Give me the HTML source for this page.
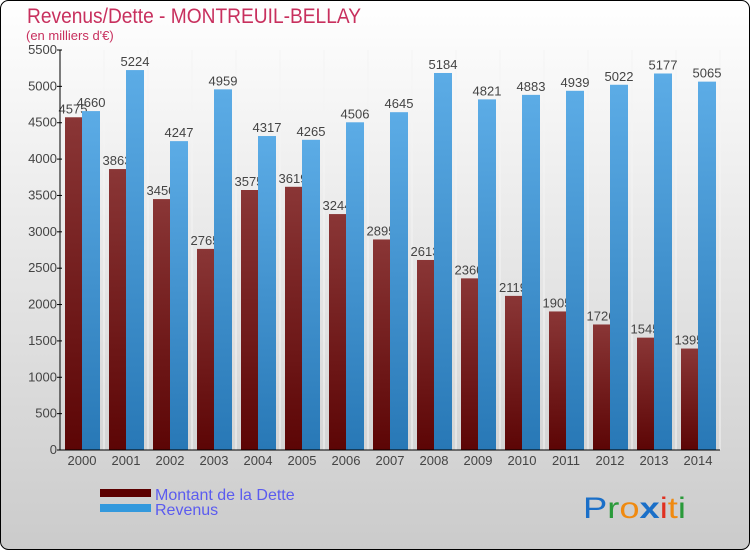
<!DOCTYPE html>
<html><head><meta charset="utf-8"><style>
body{margin:0;width:750px;height:550px;overflow:hidden;font-family:"Liberation Sans","DejaVu Sans",sans-serif}
</style></head><body>
<svg width="750" height="550" xmlns="http://www.w3.org/2000/svg" font-family="'Liberation Sans','DejaVu Sans',sans-serif">
<defs>
<linearGradient id="bg" x1="0" y1="0" x2="0" y2="1"><stop offset="0" stop-color="#ffffff"/><stop offset="1" stop-color="#cbcbcb"/></linearGradient>
<linearGradient id="gr" x1="0" y1="0" x2="0" y2="1"><stop offset="0" stop-color="#8a3636"/><stop offset="1" stop-color="#5c0505"/></linearGradient>
<linearGradient id="gb" x1="0" y1="0" x2="0" y2="1"><stop offset="0" stop-color="#5cace6"/><stop offset="1" stop-color="#2878b6"/></linearGradient>
</defs>
<rect x="0.5" y="0.5" width="749" height="549" rx="8" fill="url(#bg)" stroke="#000"/>
<text x="27" y="23" font-size="21" fill="#c8305e" textLength="334" lengthAdjust="spacingAndGlyphs">Revenus/Dette - MONTREUIL-BELLAY</text>
<text x="26" y="40" font-size="13" fill="#c8305e">(en milliers d'€)</text>
<g id="grid"></g><g id="bars"></g><g id="axes"></g>
<rect x="100" y="489" width="51" height="8" fill="#5c0000"/>
<rect x="100" y="504" width="51" height="8" fill="#3399dd"/>
<text x="155" y="500" font-size="16" fill="#5b5bef">Montant de la Dette</text>
<text x="155" y="515" font-size="16" fill="#5b5bef">Revenus</text>
<text x="583" y="518" font-size="30" textLength="103" lengthAdjust="spacingAndGlyphs"><tspan fill="#1a6fc8">P</tspan><tspan fill="#2a9a3a">r</tspan><tspan fill="#f08a10">o</tspan><tspan fill="#1a6fc8" font-weight="bold">x</tspan><tspan fill="#e03020">i</tspan><tspan fill="#f08a10">t</tspan><tspan fill="#2a9a3a">i</tspan></text>
</svg>
<script>
const years=["2000","2001","2002","2003","2004","2005","2006","2007","2008","2009","2010","2011","2012","2013","2014"];
const dette=[4575,3863,3450,2765,3575,3619,3244,2895,2613,2360,2119,1905,1726,1545,1395];
const revenus=[4660,5224,4247,4959,4317,4265,4506,4645,5184,4821,4883,4939,5022,5177,5065];
const yTicks=[0,500,1000,1500,2000,2500,3000,3500,4000,4500,5000,5500];
const NS="http://www.w3.org/2000/svg";
const X0=60,CW=44,Y0=450,YMAX=5500,PH=400;
const y=v=>Y0-v/YMAX*PH;
const x=i=>X0+i*CW;
function mk(t,a,p){const e=document.createElementNS(NS,t);for(const k in a)e.setAttribute(k,a[k]);p.appendChild(e);return e;}
const G=document.getElementById('grid'),B=document.getElementById('bars'),A=document.getElementById('axes');
years.forEach((yr,i)=>{
 const gl=mk('line',{x1:x(i+1),x2:x(i+1),y1:y(YMAX),y2:Y0,stroke:'#f4f4f4','stroke-width':1},G);
 
 
 const r=mk('rect',{x:x(i)+5,y:y(dette[i]),width:17,height:Y0-y(dette[i]),fill:'url(#gr)'},B);
 
 
 const b=mk('rect',{x:x(i)+22,y:y(revenus[i]),width:18,height:Y0-y(revenus[i]),fill:'url(#gb)'},B);
 
 
 const t1=mk('text',{x:x(i)+13,y:y(dette[i])-4,'font-size':13,fill:'#444','text-anchor':'middle'},B);t1.textContent=dette[i];
 
 
 B.insertBefore(t1,b);
 const t2=mk('text',{x:x(i)+31,y:y(revenus[i])-4,'font-size':13,fill:'#444','text-anchor':'middle'},B);t2.textContent=revenus[i];
 
 
 const xl=mk('text',{x:x(i)+22,y:Y0+15,'font-size':13,fill:'#444','text-anchor':'middle'},A);xl.textContent=yr;
 
 
});
const ax=mk('line',{x1:X0,x2:X0,y1:y(YMAX),y2:Y0,stroke:'#000'},A);


const bx=mk('line',{x1:X0,x2:X0+CW*years.length,y1:Y0,y2:Y0,stroke:'#000'},A);


yTicks.forEach(v=>{
 mk('line',{x1:X0-3,x2:X0+2,y1:y(v),y2:y(v),stroke:'#000'},A);
 const t=mk('text',{x:X0-3,y:y(v)+4,'font-size':13,fill:'#444','text-anchor':'end'},A);t.textContent=v;
 
 
});
</script>
</body></html>
